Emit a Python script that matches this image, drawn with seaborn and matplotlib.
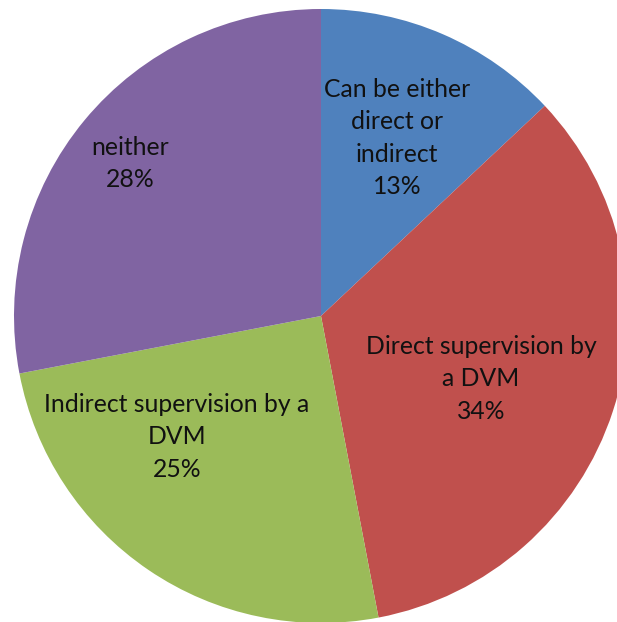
import matplotlib
matplotlib.use("Agg")
import matplotlib.pyplot as plt
import seaborn as sns

categories = ["Can be either\ndirect or\nindirect", "Direct supervision by\na DVM",
              "Indirect supervision by a\nDVM", "neither"]
values = [13, 34, 25, 28]
colors = ["#4F81BD", "#C0504D", "#9BBB59", "#8064A2"]
label_pos = [(0.248, 0.580), (0.521, -0.205), (-0.469, -0.394), (-0.622, 0.498)]

sns.set_theme(style="white")
plt.rcParams['font.family'] = ['Lato', 'DejaVu Sans']

fig = plt.figure(figsize=(6.17, 6.22), dpi=100)
ax = fig.add_axes([0, 0, 1, 1])
ax.pie(values, colors=colors, startangle=90, counterclock=False, radius=1,
       wedgeprops=dict(linewidth=0))
total = sum(values)
for cat, v, (x, y) in zip(categories, values, label_pos):
    ax.text(x, y, f"{cat}\n{round(100 * v / total)}%", ha="center", va="center",
            fontsize=17.8, color="#111111", linespacing=1.48)
ax.set_xlim(-321 / 307, (617 - 321) / 307)
ax.set_ylim(-306 / 307, 316 / 307)
ax.set_aspect("equal")
ax.axis("off")
fig.savefig("out.png", dpi=100)
